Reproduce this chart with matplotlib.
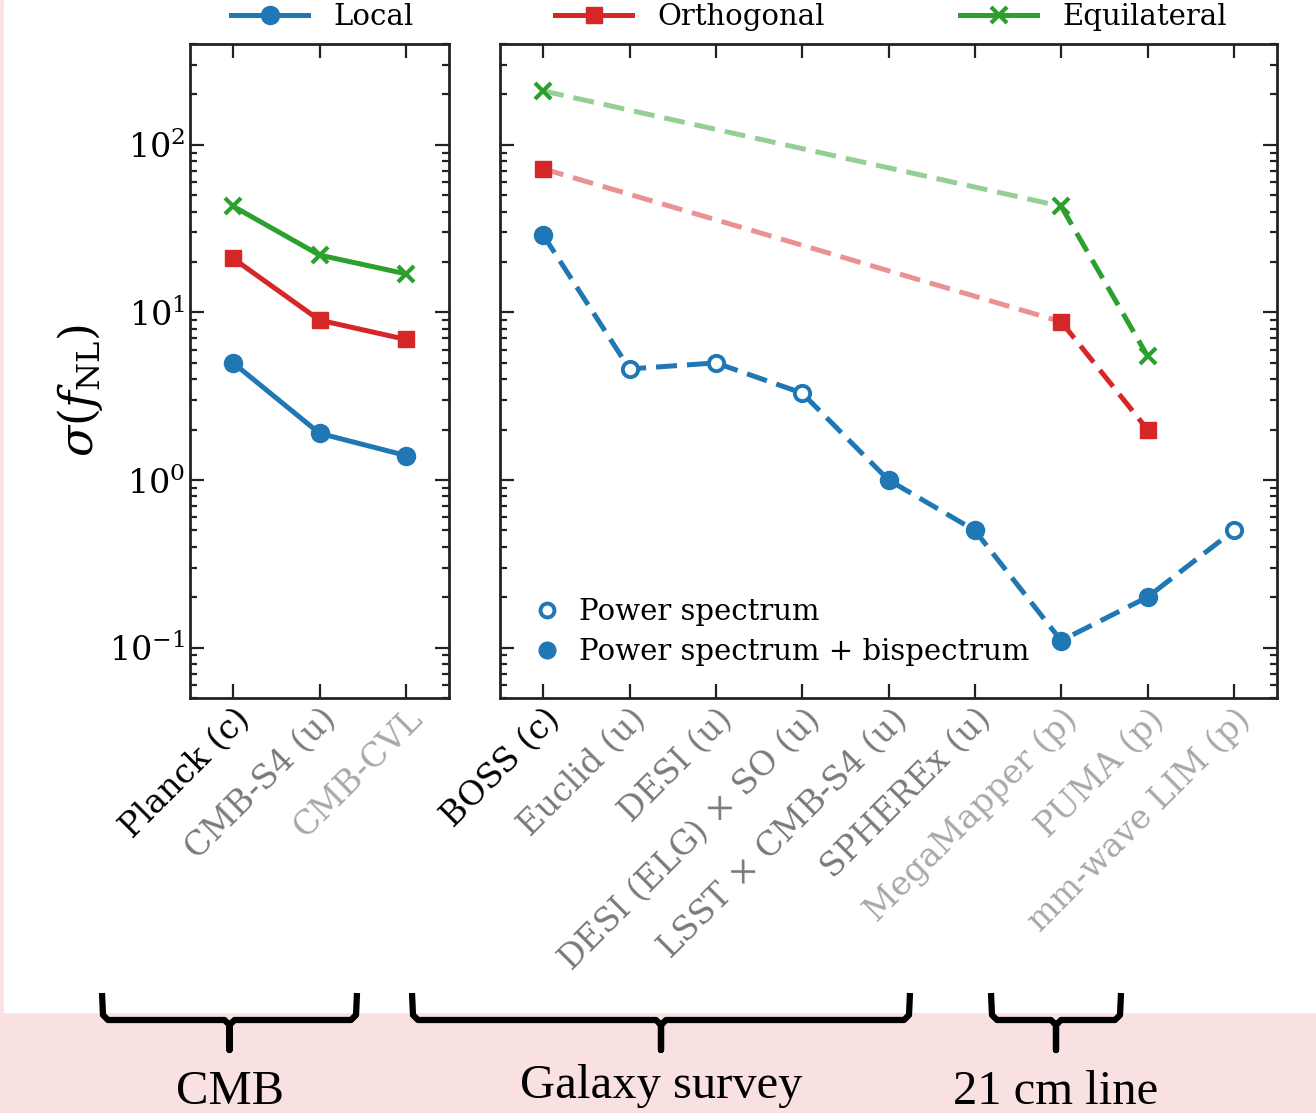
import numpy as np
import matplotlib
matplotlib.use('Agg')
import matplotlib.pyplot as plt
from matplotlib.lines import Line2D
from matplotlib.patches import Rectangle

plt.rcParams['font.family'] = ['DejaVu Serif']
plt.rcParams['mathtext.fontset'] = 'dejavuserif'

# data
cmb_names = ['Planck (c)', 'CMB-S4 (u)', 'CMB-CVL']
cmb_status = ['c', 'u', 'p']
cmb_local = [5.0, 1.9, 1.4]
cmb_orth = [21, 9.0, 6.9]
cmb_equil = [43, 22, 17]

lss_names = ['BOSS (c)', 'Euclid (u)', 'DESI (u)', r'DESI (ELG) $\times$ SO (u)',
             r'LSST $\times$ CMB-S4 (u)', 'SPHEREx (u)', 'MegaMapper (p)',
             'PUMA (p)', 'mm-wave LIM (p)']
lss_status = ['c', 'u', 'u', 'u', 'u', 'u', 'p', 'p', 'p']
lss_local = [29, 4.6, 5.0, 3.3, 1.0, 0.5, 0.11, 0.2, 0.5]
lss_ps_only = [False, True, True, True, False, False, False, False, True]
lss_nl_idx = [0, 6, 7]
lss_orth = [72, 8.8, 2.0]
lss_equil = [210, 43, 5.5]

blue, red, green = '#1f77b4', '#d62728', '#2ca02c'
label_colors = {'c': 'black', 'u': '#7a7a7a', 'p': '#a8a8a8'}

W, H = 1316, 1113
fig = plt.figure(figsize=(W / 100, H / 100), dpi=100, facecolor='#f9e1e1')
fig.add_artist(Rectangle((4 / W, 1 - 1012 / H), 1, 1012 / H, transform=fig.transFigure,
                         color='white', zorder=-10))

ax1 = fig.add_axes([190 / W, 1 - 698 / H, 259 / W, 654 / H])
ax2 = fig.add_axes([500 / W, 1 - 698 / H, 777 / W, 654 / H], sharey=ax1)

lw, ms = 3.6, 13
fs = 24

# CMB panel
x1 = np.arange(len(cmb_names))
ax1.plot(x1, cmb_local, '-o', color=blue, lw=lw, ms=ms)
ax1.plot(x1, cmb_orth, '-s', color=red, lw=lw, ms=ms - 1)
ax1.plot(x1, cmb_equil, '-x', color=green, lw=lw, ms=ms - 1, mew=3)

# LSS panel
x2 = np.arange(len(lss_names))
ax2.plot(x2, lss_local, '--', color=blue, lw=lw, dashes=(4.2, 2.0), zorder=2)
for xi, yi, ps in zip(x2, lss_local, lss_ps_only):
    if ps:
        ax2.plot(xi, yi, 'o', mfc='white', mec=blue, mew=2.8, ms=ms - 2, zorder=3)
    else:
        ax2.plot(xi, yi, 'o', color=blue, ms=ms, zorder=3)

xn = x2[lss_nl_idx]
for vals, mk, c, kw in [(lss_orth, 's', red, dict(ms=ms - 1)),
                        (lss_equil, 'x', green, dict(ms=ms - 1, mew=3))]:
    ax2.plot(xn[:2], vals[:2], '--', color=c, lw=lw, alpha=0.5, dashes=(4.2, 2.0))
    ax2.plot(xn[1:], vals[1:], '--', color=c, lw=lw, dashes=(4.2, 2.0))
    ax2.plot(xn, vals, mk, color=c, ls='none', **kw)

for ax, names, status in [(ax1, cmb_names, cmb_status), (ax2, lss_names, lss_status)]:
    ax.set_yscale('log')
    ax.set_xlim(-0.5, len(names) - 0.5)
    ax.set_xticks(np.arange(len(names)))
    ax.set_xticklabels(names, rotation=45, ha='right', rotation_mode='anchor', fontsize=fs)
    for lab, s in zip(ax.get_xticklabels(), status):
        lab.set_color(label_colors[s])
    ax.tick_params(which='both', direction='in', top=True, right=True, width=1.6, color='#222222')
    ax.tick_params(which='major', length=10, labelsize=fs)
    ax.tick_params(which='minor', length=5)
    for sp in ax.spines.values():
        sp.set_linewidth(2)
        sp.set_color('#222222')

ax1.set_ylim(0.05, 400)
ax1.set_yticks([0.1, 1, 10, 100])
ax2.tick_params(axis='y', labelleft=False)
ax1.set_ylabel(r'$\sigma(f_{\rm NL})$', fontsize=33)
ax1.yaxis.set_label_coords(-0.33, 0.47)

# legend inside LSS panel
ps_handles = [Line2D([], [], marker='o', ls='none', mfc='white', mec=blue, mew=2.8, ms=10),
              Line2D([], [], marker='o', ls='none', color=blue, ms=12)]
ax2.legend(ps_handles, ['Power spectrum', 'Power spectrum + bispectrum'], loc='lower left',
           frameon=False, fontsize=21, handletextpad=0.6, labelspacing=0.4,
           borderaxespad=0.7, handlelength=1.0)

# top legend, one entry per shape
top_handles = [Line2D([], [], color=blue, marker='o', lw=lw, ms=ms),
               Line2D([], [], color=red, marker='s', lw=lw, ms=ms - 1),
               Line2D([], [], color=green, marker='x', lw=lw, ms=ms - 1, mew=3)]
top_labels = ['Local', 'Orthogonal', 'Equilateral']
top_x = [231, 555, 960]
for h, lab, xl in zip(top_handles, top_labels, top_x):
    fig.legend([h], [lab], loc='center left', bbox_to_anchor=(xl / W, 1 - 17 / H),
               frameon=False, fontsize=21, handlelength=2.65, handletextpad=0.85,
               borderpad=0, borderaxespad=0)

# braces under the tick labels
def brace(xa, xb, ytop=993, ymid=1020, ybot=1050):
    xm = (xa + xb) / 2
    pts = [(xa, ytop), (xa + 1, ymid - 5), (xa + 6, ymid), (xm - 5, ymid), (xm, ymid + 5),
           (xm, ybot), (xm, ymid + 5), (xm + 5, ymid), (xb - 6, ymid), (xb - 1, ymid - 5),
           (xb, ytop)]
    xs = [p[0] / W for p in pts]
    ys = [1 - p[1] / H for p in pts]
    fig.add_artist(Line2D(xs, ys, transform=fig.transFigure, color='black', lw=4.5,
                          solid_joinstyle='round', solid_capstyle='butt'))

for xa, xb, label, yl in [(102, 357, 'CMB', 1092), (412, 910, 'Galaxy survey', 1086),
                          (991, 1121, '21 cm line', 1092)]:
    brace(xa, xb)
    fig.text((xa + xb) / 2 / W, 1 - yl / H, label, ha='center', va='center',
             fontsize=35, family='Liberation Serif')

fig.savefig('out.png', dpi=100, facecolor=fig.get_facecolor())
